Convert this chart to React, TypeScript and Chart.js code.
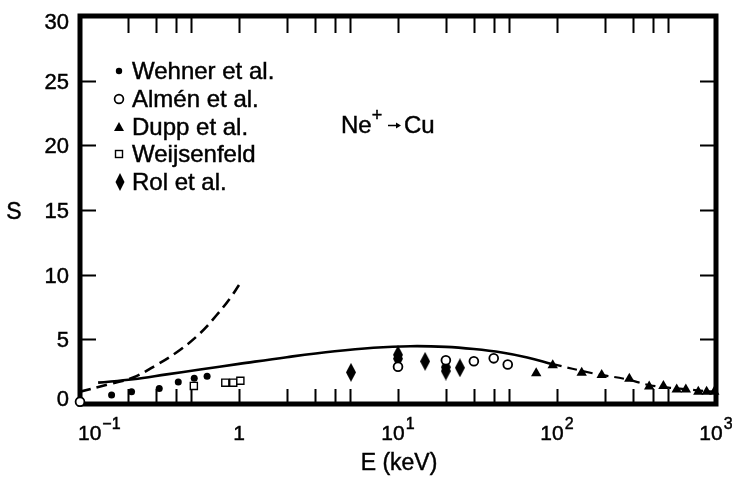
import React, { useEffect, useRef } from "react";
import { Chart, registerables } from "chart.js";

Chart.register(...registerables);

// Sputtering yield S of Cu under Ne+ bombardment versus ion energy E (keV)
const wehnerE = [0.158, 0.211, 0.315, 0.415, 0.523, 0.63];
const wehnerS = [0.7, 0.95, 1.2, 1.7, 2.0, 2.15];

const almenE = [0.1, 10, 20, 30, 40, 49];
const almenS = [0.18, 2.88, 3.38, 3.3, 3.53, 3.05];

const duppE = [74, 94, 143, 191, 285, 380, 467, 566, 646, 774, 873, 975];
const duppS = [2.37, 3.0, 2.42, 2.24, 1.95, 1.35, 1.4, 1.12, 1.12, 0.95, 0.95, 0.95];

const weijsE = [0.52, 0.82, 0.92, 1.02];
const weijsS = [1.4, 1.65, 1.65, 1.8];

const rolE = [5.06, 10, 10, 14.8, 20, 20, 24.5];
const rolS = [2.45, 3.5, 3.8, 3.3, 2.55, 2.85, 2.8];

// theoretical curves
const lowDashE = [0.1, 0.1545, 0.216, 0.303, 0.425, 0.569, 0.724, 0.878, 1.0];
const lowDashS = [0.95, 1.55, 2.05, 3.02, 4.18, 5.47, 6.88, 8.17, 9.2];

const solidE = [0.13, 0.216, 0.351, 0.569, 1.0, 2.0, 4.0, 7.0, 12, 20, 30, 45, 65, 92.6];
const solidS = [1.65, 1.91, 2.29, 2.67, 3.1, 3.62, 4.08, 4.35, 4.47, 4.42, 4.25, 3.98, 3.6, 3.1];

const highDashE = [92.6, 169, 274, 384, 566, 955];
const highDashS = [3.1, 2.37, 1.91, 1.45, 1.21, 0.95];

// axis ticks and labels
const yTicks = [0, 5, 10, 15, 20, 25, 30];
const yInnerTicks = [5, 10, 15, 20, 25];
const xDecades = [0.1, 1, 10, 100];
const xMinorMultipliers = [2, 3, 4, 5];
const xLabels: { value: number; base: string; exp: string }[] = [
  { value: 0.1, base: "10", exp: "\u22121" },
  { value: 1, base: "1", exp: "" },
  { value: 10, base: "10", exp: "1" },
  { value: 100, base: "10", exp: "2" },
  { value: 1000, base: "10", exp: "3" },
];

const legendNames = ["Wehner et al.", "Almén et al.", "Dupp et al.", "Weijsenfeld", "Rol et al."];

const FONT = '"Liberation Sans", Arial, Helvetica, sans-serif';

const pts = (xs: number[], ys: number[]) => xs.map((x, i) => ({ x, y: ys[i] }));

function makeDiamond(w: number, h: number): HTMLCanvasElement {
  const c = document.createElement("canvas");
  c.width = w;
  c.height = h;
  const g = c.getContext("2d")!;
  g.fillStyle = "#000";
  g.beginPath();
  g.moveTo(w / 2, 0);
  g.lineTo(w, h / 2);
  g.lineTo(w / 2, h);
  g.lineTo(0, h / 2);
  g.closePath();
  g.fill();
  return c;
}

// text with a hairline outline so the glyphs read a little heavier
function heavyText(ctx: CanvasRenderingContext2D, s: string, x: number, y: number) {
  ctx.fillText(s, x, y);
  ctx.lineWidth = 0.45;
  ctx.strokeText(s, x, y);
}

const framePlugin = {
  id: "frame",
  beforeDatasetsDraw(chart: any) {
    const { ctx, chartArea: a, scales } = chart;
    const x = scales.x;
    const y = scales.y;
    ctx.save();
    ctx.strokeStyle = "#000";
    ctx.lineWidth = 2;
    ctx.beginPath();
    // x ticks pointing inward on bottom and top
    const xt: number[] = [];
    xDecades.forEach((d) => {
      if (d > 0.1) xt.push(d);
      xMinorMultipliers.forEach((m) => xt.push(d * m));
    });
    xt.forEach((v) => {
      const px = Math.round(x.getPixelForValue(v)) + 0.5;
      ctx.moveTo(px, a.bottom);
      ctx.lineTo(px, a.bottom - 15);
      ctx.moveTo(px, a.top);
      ctx.lineTo(px, a.top + 17);
    });
    // y ticks pointing inward on left and right
    yInnerTicks.forEach((v) => {
      const py = Math.round(y.getPixelForValue(v)) + 0.5;
      ctx.moveTo(a.left, py);
      ctx.lineTo(a.left + 16, py);
      ctx.moveTo(a.right, py);
      ctx.lineTo(a.right - 16, py);
    });
    ctx.stroke();
    ctx.lineWidth = 5;
    ctx.strokeRect(a.left, a.top, a.right - a.left, a.bottom - a.top);
    ctx.restore();
  },
};

const textPlugin = {
  id: "texts",
  afterDraw(chart: any) {
    const { ctx, chartArea: a, scales } = chart;
    const x = scales.x;
    const y = scales.y;
    ctx.save();
    ctx.fillStyle = "#000";
    ctx.strokeStyle = "#000";

    // y tick labels
    ctx.font = `22px ${FONT}`;
    ctx.textAlign = "right";
    ctx.textBaseline = "middle";
    yTicks.forEach((v) => {
      let py = y.getPixelForValue(v) + 2;
      py = Math.max(py, a.top + 7);
      py = Math.min(py, a.bottom - 4);
      heavyText(ctx, String(v), 69, py);
    });

    // x tick labels with superscripts
    ctx.textAlign = "left";
    ctx.textBaseline = "alphabetic";
    xLabels.forEach((l) => {
      ctx.font = `21px ${FONT}`;
      const wb = ctx.measureText(l.base).width;
      ctx.font = `16px ${FONT}`;
      const we = l.exp ? ctx.measureText(l.exp).width + 1 : 0;
      const px = x.getPixelForValue(l.value);
      let left = px - (wb + we) / 2;
      left = Math.max(left, a.left - 2);
      ctx.font = `21px ${FONT}`;
      heavyText(ctx, l.base, left, 440);
      if (l.exp) {
        ctx.font = `16px ${FONT}`;
        heavyText(ctx, l.exp, left + wb + 1, 429);
      }
    });

    // axis titles
    ctx.font = `23px ${FONT}`;
    ctx.textAlign = "center";
    ctx.textBaseline = "middle";
    heavyText(ctx, "S", 14, 213);
    heavyText(ctx, "E (keV)", (a.left + a.right) / 2 + 1, 464);

    // legend
    const lx = 119;
    const rows = [71, 99, 127, 154, 182];
    ctx.textAlign = "left";
    ctx.font = `24px ${FONT}`;
    legendNames.forEach((name, i) => heavyText(ctx, name, 132, rows[i] + 1));
    // filled dot
    ctx.beginPath();
    ctx.arc(lx, rows[0], 3.2, 0, Math.PI * 2);
    ctx.fill();
    // open circle
    ctx.lineWidth = 1.7;
    ctx.beginPath();
    ctx.arc(lx, rows[1], 4.4, 0, Math.PI * 2);
    ctx.stroke();
    // triangle
    ctx.beginPath();
    ctx.moveTo(lx, rows[2] - 5);
    ctx.lineTo(lx + 5, rows[2] + 4);
    ctx.lineTo(lx - 5, rows[2] + 4);
    ctx.closePath();
    ctx.fill();
    // open square
    ctx.lineWidth = 1.4;
    ctx.strokeRect(lx - 3.5, rows[3] - 3.5, 7, 7);
    // diamond
    ctx.beginPath();
    ctx.moveTo(lx + 1, rows[4] - 9);
    ctx.lineTo(lx + 5.5, rows[4]);
    ctx.lineTo(lx + 1, rows[4] + 9);
    ctx.lineTo(lx - 3.5, rows[4]);
    ctx.closePath();
    ctx.fill();

    // reaction annotation: Ne+ -> Cu
    ctx.font = `24px ${FONT}`;
    ctx.textBaseline = "alphabetic";
    heavyText(ctx, "Ne", 341, 133);
    const wNe = ctx.measureText("Ne").width;
    ctx.font = `18px ${FONT}`;
    heavyText(ctx, "+", 341 + wNe, 121);
    ctx.lineWidth = 1.5;
    ctx.beginPath();
    ctx.moveTo(388, 125.5);
    ctx.lineTo(399, 125.5);
    ctx.stroke();
    ctx.beginPath();
    ctx.moveTo(401, 125.5);
    ctx.lineTo(396, 122.5);
    ctx.lineTo(396, 128.5);
    ctx.closePath();
    ctx.fill();
    ctx.font = `24px ${FONT}`;
    heavyText(ctx, "Cu", 404, 133);

    ctx.restore();
  },
};

export default function App() {
  const ref = useRef<HTMLCanvasElement | null>(null);

  useEffect(() => {
    if (!ref.current) return;
    const diamond = makeDiamond(10, 19);
    const chart = new Chart(ref.current, {
      type: "scatter",
      data: {
        datasets: [
          {
            label: "Wehner et al.",
            data: pts(wehnerE, wehnerS),
            pointStyle: "circle",
            pointRadius: 3.5,
            backgroundColor: "#000",
            borderColor: "#000",
            borderWidth: 0,
            clip: false,
          } as any,
          {
            label: "Almén et al.",
            data: pts(almenE, almenS),
            pointStyle: "circle",
            pointRadius: 4.4,
            backgroundColor: "#fff",
            borderColor: "#000",
            borderWidth: 1.8,
            clip: false,
          } as any,
          {
            label: "Dupp et al.",
            data: pts(duppE, duppS),
            pointStyle: "triangle",
            pointRadius: 6,
            backgroundColor: "#000",
            borderColor: "#000",
            borderWidth: 0,
            clip: false,
          } as any,
          {
            label: "Weijsenfeld",
            data: pts(weijsE, weijsS),
            pointStyle: "rect",
            pointRadius: 5,
            backgroundColor: "#fff",
            borderColor: "#000",
            borderWidth: 1.4,
            clip: false,
          } as any,
          {
            label: "Rol et al.",
            data: pts(rolE, rolS),
            pointStyle: diamond,
            pointRadius: 6,
            clip: false,
          } as any,
          {
            type: "line",
            label: "low energy",
            data: pts(lowDashE, lowDashS),
            borderColor: "#000",
            borderWidth: 2.6,
            borderDash: [11, 6],
            pointRadius: 0,
            showLine: true,
            tension: 0.4,
            fill: false,
          } as any,
          {
            type: "line",
            label: "theory",
            data: pts(solidE, solidS),
            borderColor: "#000",
            borderWidth: 2.6,
            pointRadius: 0,
            showLine: true,
            tension: 0.4,
            fill: false,
          } as any,
          {
            type: "line",
            label: "theory (extended)",
            data: pts(highDashE, highDashS),
            borderColor: "#000",
            borderWidth: 2.2,
            borderDash: [10, 6],
            pointRadius: 0,
            showLine: true,
            tension: 0.4,
            fill: false,
          } as any,
        ],
      },
      options: {
        animation: false,
        responsive: false,
        layout: { padding: { left: 80, right: 16, top: 16, bottom: 75 } },
        plugins: {
          legend: { display: false },
          tooltip: { enabled: false },
        },
        scales: {
          x: { type: "logarithmic", min: 0.1, max: 1000, display: false },
          y: { type: "linear", min: 0, max: 30, display: false },
        },
      },
      plugins: [framePlugin, textPlugin],
    });
    return () => chart.destroy();
  }, []);

  return (
    <div style={{ position: "fixed", left: 0, top: 0, width: 732, height: 479, background: "#fff" }}>
      <canvas ref={ref} width={732} height={479} style={{ display: "block" }} />
    </div>
  );
}
